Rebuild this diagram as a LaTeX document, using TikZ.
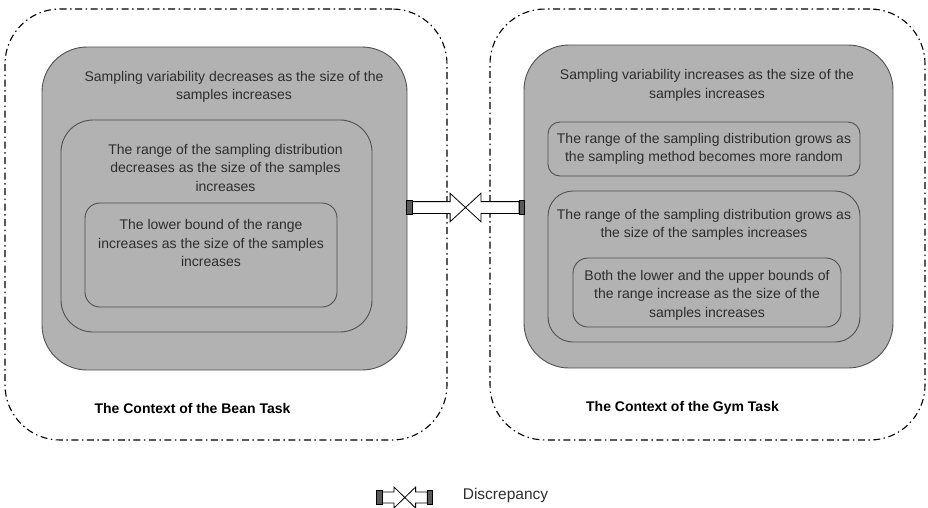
\documentclass[tikz,border=0pt]{standalone}
\usepackage{fontspec}
\setmainfont{Liberation Sans}
\usetikzlibrary{calc}

\definecolor{boxgray}{RGB}{178,178,178}
\definecolor{edgegray}{RGB}{80,80,80}
\definecolor{txtgray}{RGB}{45,45,45}

\tikzset{
  context/.style={draw=black,line width=1.1pt,dash pattern=on 7pt off 3.5pt on 1.5pt off 3.5pt,rounded corners=55pt,inner sep=0pt},
  panel/.style={draw=edgegray,fill=boxgray,line width=0.9pt,inner sep=0pt},
  claim/.style={align=center,text=txtgray,font=\fontsize{14}{18.5}\selectfont,inner sep=0pt},
  ctxlabel/.style={font=\fontsize{14}{16}\selectfont\bfseries,inner sep=0pt},
  % #1 shaft end, #2 block end, #3 barb x, #4 barb y, #5 shaft y
  pics/discrepancy/.style n args={5}{code={
    \draw[fill=white,line width=0.8pt] (-#1,-#5) -- (-#3,-#5) -- (-#3,-#4) -- (#3,#4) -- (#3,#5) -- (#1,#5)
      -- (#1,-#5) -- (#3,-#5) -- (#3,-#4) -- (-#3,#4) -- (-#3,#5) -- (-#1,#5) -- cycle;
    \draw[fill=black!65,line width=0.8pt] (-#2,{-(#5+1.3)}) rectangle (-#1,{#5+1.3});
    \draw[fill=black!65,line width=0.8pt] (#1,{-(#5+1.3)}) rectangle (#2,{#5+1.3});
  }}
}

\begin{document}
\begin{tikzpicture}[x=1pt,y=-1pt]
  \useasboundingbox (0,0) rectangle (928,507);

  % outer contexts
  \node (beanctx) at (226,224.5) [context,minimum width=442pt,minimum height=431pt] {};
  \node (gymctx) at (707.5,224.5) [context,minimum width=435pt,minimum height=431pt] {};

  % bean task
  \node (beangray) at (224.5,208.5) [panel,rounded corners=45pt,minimum width=365pt,minimum height=323pt] {};
  \node (beanmid) at (216.5,226) [panel,rounded corners=32pt,minimum width=311pt,minimum height=212pt] {};
  \node (beaninner) at (211,255) [panel,rounded corners=15pt,minimum width=252pt,minimum height=104pt] {};
  \node (beantxt) at (234,87) [claim] {Sampling variability decreases as the size of the\\samples increases};
  \node (beanmidtxt) at (225.5,167.5) [claim] {The range of the sampling distribution\\decreases as the size of the samples\\increases};
  \node (beaninnertxt) at (211,243) [claim] {The lower bound of the range\\increases as the size of the samples\\increases};
  \node (beanlabel) at (192.5,408) [ctxlabel] {The Context of the Bean Task};

  % gym task
  \node (gymgray) at (708.5,206.5) [panel,rounded corners=45pt,minimum width=369pt,minimum height=323pt] {};
  \node (gymrandom) at (704,149) [panel,rounded corners=12pt,minimum width=312pt,minimum height=54pt] {};
  \node (gymrange) at (704,266.5) [panel,rounded corners=25pt,minimum width=312pt,minimum height=151pt] {};
  \node (gymbounds) at (707,292.5) [panel,rounded corners=15pt,minimum width=268pt,minimum height=69pt] {};
  \node (gymtxt) at (707,85.5) [claim] {Sampling variability increases as the size of the\\samples increases};
  \node (gymrandomtxt) at (704,149) [claim] {The range of the sampling distribution grows as\\the sampling method becomes more random};
  \node (gymrangetxt) at (704,225) [claim] {The range of the sampling distribution grows as\\the size of the samples increases};
  \node (gymboundstxt) at (707,295) [claim] {Both the lower and the upper bounds of\\the range increase as the size of the\\samples increases};
  \node (gymlabel) at (682.5,408) [ctxlabel] {The Context of the Gym Task};

  % discrepancy between the two
  \pic at ($(beangray.east)!0.5!(gymgray.west)$) {discrepancy={53.6}{59}{15.4}{14.2}{5.9}};

  % legend
  \pic at (404.8,497.5) {discrepancy={22.5}{28}{10.8}{10.5}{5.5}};
  \node (legendtxt) at (505.5,495) [claim,font=\fontsize{15.5}{18}\selectfont] {Discrepancy};
\end{tikzpicture}
\end{document}
